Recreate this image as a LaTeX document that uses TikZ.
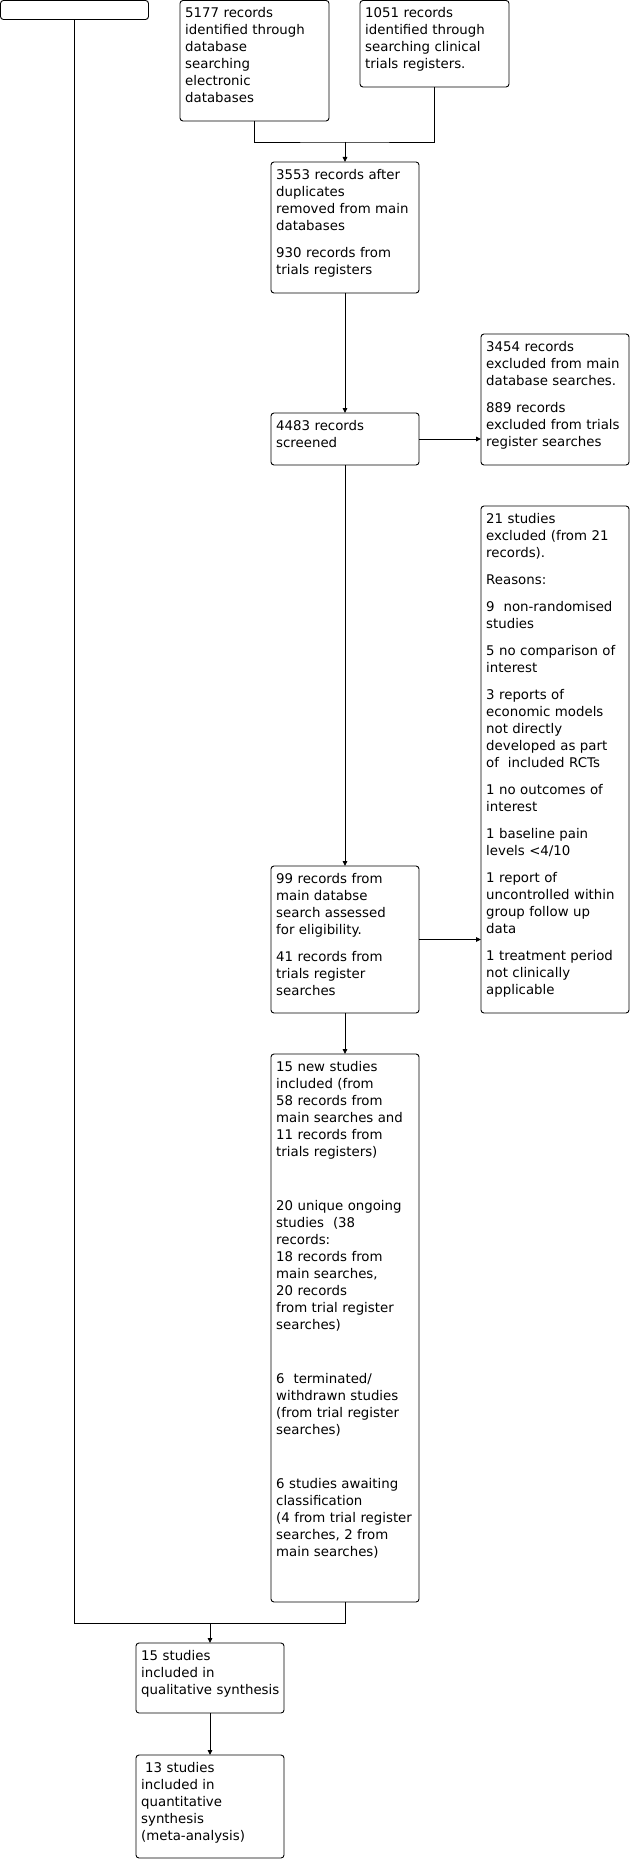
\documentclass[tikz,border=0pt]{standalone}
\usepackage{fontspec}
\setmainfont{DejaVu Sans}
\usetikzlibrary{arrows.meta}
\begin{document}
\begin{tikzpicture}[x=1pt,y=-1pt,
  box/.style={draw, line width=0.9pt, rounded corners=3pt, inner sep=0pt, outer sep=0pt, anchor=north west},
  txt/.style={anchor=base west, inner sep=0pt, text width=150pt, align=left, font=\fontsize{13.33}{17}\selectfont},
  conn/.style={line width=0.9pt},
  arr/.style={line width=0.9pt, -{Triangle[length=5pt,width=4.5pt]}}]
\useasboundingbox (0,0) rectangle (632,1859);
% boxes
\node[box, minimum width=148pt, minimum height=19pt] (top) at (0.5,0.5) {};
\node[box, minimum width=149pt, minimum height=120.5pt] (A) at (180,0.5) {};
\node[box, minimum width=149pt, minimum height=86.5pt] (B) at (360,0.5) {};
\node[box, minimum width=148pt, minimum height=131pt] (C) at (271,162) {};
\node[box, minimum width=148pt, minimum height=52pt] (D) at (271,413) {};
\node[box, minimum width=148pt, minimum height=131pt] (E) at (481,334) {};
\node[box, minimum width=148pt, minimum height=507pt] (F) at (481,506) {};
\node[box, minimum width=148pt, minimum height=147pt] (G) at (271,866) {};
\node[box, minimum width=148pt, minimum height=548pt] (H) at (271,1054) {};
\node[box, minimum width=148pt, minimum height=70pt] (I) at (136,1643) {};
\node[box, minimum width=148pt, minimum height=103pt] (J) at (136,1755) {};
% texts
\node[txt] (tA) at ([shift={(5,17.5)}]A.north west) {5177 records\\identified through\\database\\searching\\electronic\\databases};
\node[txt] (tB) at ([shift={(5,17.5)}]B.north west) {1051 records\\identified through\\searching clinical\\trials registers.};
\node[txt] (tC) at ([shift={(5,17.5)}]C.north west) {3553 records after\\duplicates\\removed from main\\databases\\[10pt]930 records from\\trials registers};
\node[txt] (tD) at ([shift={(5,17.5)}]D.north west) {4483 records\\screened};
\node[txt] (tE) at ([shift={(5,17.5)}]E.north west) {3454 records\\excluded from main\\database searches.\\[10pt]889 records\\excluded from trials\\register searches};
\node[txt] (tF) at ([shift={(5,17.5)}]F.north west) {21 studies\\excluded (from 21\\records).\\[10pt]Reasons:\\[10pt]9~ non-randomised\\studies\\[10pt]5 no comparison of\\interest\\[10pt]3 reports of\\economic models\\not directly\\developed as part\\of~ included RCTs\\[10pt]1 no outcomes of\\interest\\[10pt]1 baseline pain\\levels <4/10\\[10pt]1 report of\\uncontrolled within\\group follow up\\data\\[10pt]1 treatment period\\not clinically\\applicable};
\node[txt] (tG) at ([shift={(5,17.5)}]G.north west) {99 records from\\main databse\\search assessed\\for eligibility.\\[10pt]41 records from\\trials register\\searches};
\node[txt] (tH) at ([shift={(5,17.5)}]H.north west) {15 new studies\\included (from\\58 records from\\main searches and\\11 records from\\trials registers)\\[10pt]\mbox{}\\[10pt]20 unique ongoing\\studies~ (38\\records:\\18 records from\\main searches,\\20 records\\from trial register\\searches)\\[10pt]\mbox{}\\[10pt]6~ terminated/\\withdrawn studies\\(from trial register\\searches)\\[10pt]\mbox{}\\[10pt]6 studies awaiting\\classification\\(4 from trial register\\searches, 2 from\\main searches)};
\node[txt] (tI) at ([shift={(5,17.5)}]I.north west) {15 studies\\included in\\qualitative synthesis};
\node[txt] (tJ) at ([shift={(5,17.5)}]J.north west) {\hspace*{4pt}13 studies\\included in\\quantitative\\synthesis\\(meta-analysis)};
% connectors
\coordinate (j1) at (345,142);
\coordinate (j2) at (210,1623);
\draw[conn] (A.south) |- (j1) -| (B.south);
\draw[arr] (j1) -- (C.north);
\draw[arr] (C.south) -- (D.north);
\draw[arr] (D.east) -- (D.east -| E.west);
\draw[arr] (D.south) -- (G.north);
\draw[arr] (G.east) -- (G.east -| F.west);
\draw[arr] (G.south) -- (H.north);
\draw[conn] (top.south) |- (H.south |- j2) -- (H.south);
\draw[arr] (j2) -- (I.north);
\draw[arr] (I.south) -- (J.north);
\end{tikzpicture}
\end{document}
